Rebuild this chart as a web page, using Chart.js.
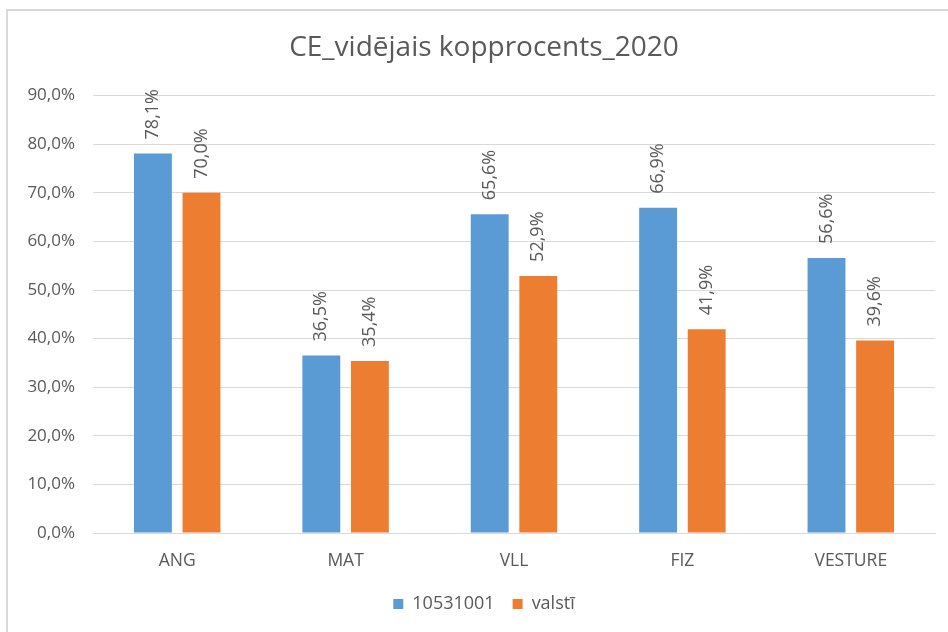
<!DOCTYPE html>
<html>
<head>
<meta charset="utf-8">
<script src="https://cdn.jsdelivr.net/npm/chart.js@4.4.1/dist/chart.umd.min.js"></script>
<style>
  body { margin: 0; background: #fff; }
  #wrap {
    position: absolute; left: 6px; top: 9px;
    width: 942px; height: 623px;
    border-top: 2px solid #d9d9d9; border-left: 2px solid #d9d9d9;
  }
  canvas { display: block; }
</style>
</head>
<body>
<div id="wrap"><canvas id="chart" width="940" height="621"></canvas></div>
<script>
const categories = ['ANG', 'MAT', 'VLL', 'FIZ', 'VESTURE'];
const schoolValues = [78.1, 36.5, 65.6, 66.9, 56.6];
const countryValues = [70.0, 35.4, 52.9, 41.9, 39.6];
const seriesNames = ['10531001', 'valstī'];

const FONT = "'Open Sans', sans-serif";
const TEXT_COLOR = '#595959';

function pct(v) {
    return v.toFixed(1).replace('.', ',') + '%';
}

// vertical value labels above each bar
const barLabels = {
    id: 'barLabels',
    afterDatasetsDraw(chart) {
        const ctx = chart.ctx;
        ctx.save();
        ctx.font = '18px ' + FONT;
        ctx.fillStyle = TEXT_COLOR;
        ctx.textAlign = 'left';
        ctx.textBaseline = 'middle';
        chart.data.datasets.forEach((ds, i) => {
            chart.getDatasetMeta(i).data.forEach((bar, j) => {
                ctx.save();
                ctx.translate(bar.x, bar.y - 14);
                ctx.rotate(-Math.PI / 2);
                ctx.fillText(pct(ds.data[j]), 0, 0);
                ctx.restore();
            });
        });
        ctx.restore();
    }
};

// y tick labels drawn outside the scale box (so the title/legend can be centred like Excel)
const yTickLabels = {
    id: 'yTickLabels',
    afterDraw(chart) {
        const ctx = chart.ctx;
        const y = chart.scales.y;
        ctx.save();
        ctx.font = '17px ' + FONT;
        ctx.fillStyle = TEXT_COLOR;
        ctx.textAlign = 'right';
        ctx.textBaseline = 'middle';
        y.ticks.forEach(t => {
            ctx.fillText(pct(t.value), chart.chartArea.left - 18, y.getPixelForValue(t.value));
        });
        ctx.restore();
    }
};

new Chart(document.getElementById('chart'), {
    type: 'bar',
    data: {
        labels: categories,
        datasets: [{
            label: seriesNames[0],
            data: schoolValues,
            backgroundColor: '#5b9bd5',
            categoryPercentage: 0.577,
            barPercentage: 0.78
        }, {
            label: seriesNames[1],
            data: countryValues,
            backgroundColor: '#ed7d31',
            categoryPercentage: 0.577,
            barPercentage: 0.78
        }]
    },
    options: {
        responsive: false,
        animation: false,
        layout: { padding: { left: 25, right: 13, top: 0, bottom: 9 } },
        plugins: {
            title: {
                display: true,
                text: 'CE_vidējais kopprocents_2020',
                color: TEXT_COLOR,
                font: { family: FONT, size: 28, weight: 'normal' },
                padding: { top: 20, bottom: 31 }
            },
            legend: {
                position: 'bottom',
                labels: {
                    color: TEXT_COLOR,
                    font: { family: FONT, size: 18 },
                    boxWidth: 10,
                    boxHeight: 10,
                    padding: 18
                }
            },
            tooltip: { enabled: false }
        },
        scales: {
            x: {
                grid: { display: false, drawTicks: false },
                border: { color: '#d9d9d9', width: 1 },
                ticks: { color: TEXT_COLOR, font: { family: FONT, size: 17.5 }, padding: 18 },
                afterFit(s) { s.height = 44; }
            },
            y: {
                min: 0,
                max: 90,
                grid: { color: '#d9d9d9', drawTicks: false },
                border: { display: false },
                ticks: { stepSize: 10, display: false },
                afterFit(s) { s.width = 60; }
            }
        }
    },
    plugins: [barLabels, yTickLabels]
});
</script>
</body>
</html>
